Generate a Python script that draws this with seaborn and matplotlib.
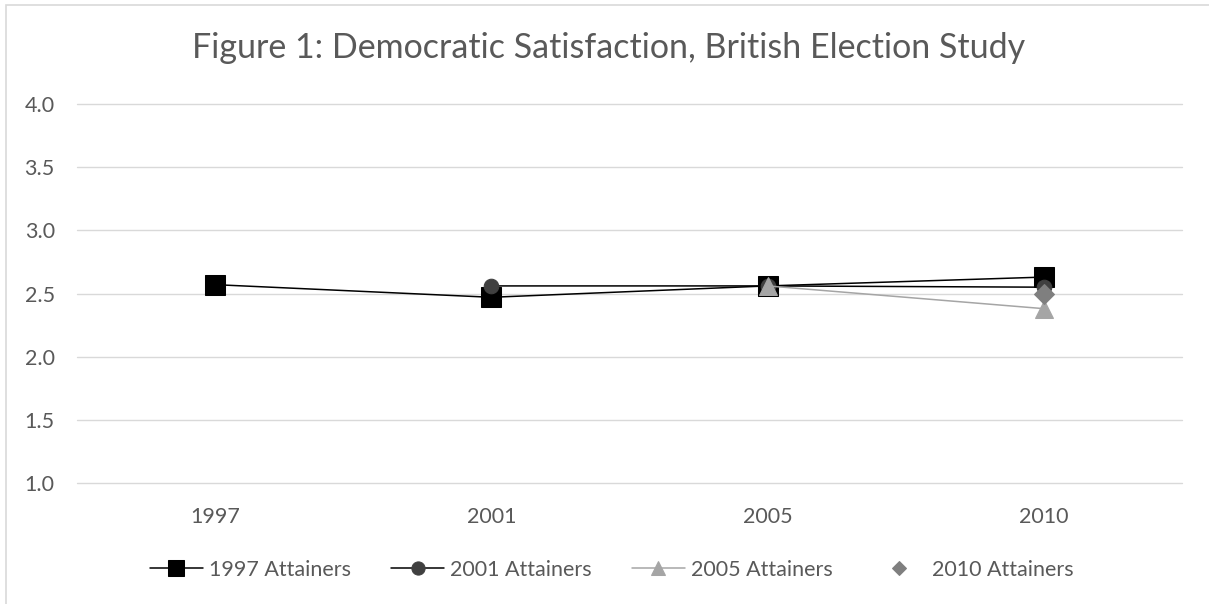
import numpy as np
import pandas as pd
import matplotlib
matplotlib.use("Agg")
import matplotlib.pyplot as plt
import seaborn as sns
from matplotlib.patches import Rectangle

years = ["1997", "2001", "2005", "2010"]
att_1997 = [2.57, 2.47, 2.56, 2.63]
att_2001 = [np.nan, 2.56, 2.56, 2.55]
att_2005 = [np.nan, np.nan, 2.56, 2.38]
att_2010 = [np.nan, np.nan, np.nan, 2.50]
series_names = ["1997 Attainers", "2001 Attainers", "2005 Attainers", "2010 Attainers"]
yticks = [1.0, 1.5, 2.0, 2.5, 3.0, 3.5, 4.0]
title = "Figure 1: Democratic Satisfaction, British Election Study"

sns.set_theme(style="white")
plt.rcParams['font.family'] = ['Lato', 'DejaVu Sans']
TXT = "#595959"

fig = plt.figure(figsize=(12.09, 6.04), dpi=100)
W, H = 1209, 604
left, right, top, bottom = 77, 1182, 104, 483
ax = fig.add_axes([left / W, 1 - bottom / H, (right - left) / W, (bottom - top) / H])

xpos = np.arange(len(years))
styles = [
    dict(color="black", marker="s", markersize=14.5, markerfacecolor="black",
         markeredgecolor="black", linewidth=1.1),
    dict(color="black", marker="o", markersize=10.5, markerfacecolor="#404040",
         markeredgecolor="#404040", linewidth=1.1),
    dict(color="#a5a5a5", marker="^", markersize=13, markerfacecolor="#a5a5a5",
         markeredgecolor="#a5a5a5", linewidth=1.1),
    dict(color="#7f7f7f", marker="D", markersize=10, markerfacecolor="#7f7f7f",
         markeredgecolor="#7f7f7f", linestyle="none"),
]
for name, vals, st in zip(series_names, [att_1997, att_2001, att_2005, att_2010], styles):
    df = pd.DataFrame({"x": xpos, "y": vals}).dropna()
    sns.lineplot(data=df, x="x", y="y", ax=ax, label=name, zorder=3, clip_on=False, **st)

ax.set_xlim(-0.5, len(years) - 0.5)
ax.set_ylim(1.0, 4.0)
ax.set_yticks(yticks)
ax.set_yticklabels([f"{v:.1f}" for v in yticks])
ax.set_xticks(xpos)
ax.set_xticklabels(years)
ax.set_xlabel("")
ax.set_ylabel("")
for s in ax.spines.values():
    s.set_visible(False)
ax.grid(False)
for v in yticks:
    ax.axhline(v, color="#d9d9d9", linewidth=1.0, zorder=1, clip_on=False)
ax.tick_params(axis="y", length=0, pad=16, labelsize=15.5, labelcolor=TXT)
ax.tick_params(axis="x", length=0, pad=17, labelsize=15.5, labelcolor=TXT)

fig.text(0.503, 1 - 58 / H, title, ha="center", va="baseline", fontsize=24.5, color=TXT)

handles, labels = ax.get_legend_handles_labels()
if ax.legend_:
    ax.legend_.remove()
leg = fig.legend(handles, labels, loc="center", bbox_to_anchor=(0.506, 1 - 570 / H),
                 ncol=4, frameon=False, fontsize=15.5,
                 handlelength=2.45, handletextpad=0.3, columnspacing=1.85)
for h, ms in zip(leg.legend_handles, [11, 9.5, 9.5, 7.5]):
    h.set_markersize(ms)
for t in leg.get_texts():
    t.set_color(TXT)

fig.patches.append(Rectangle((6 / W, -0.1), 1.2, 1 - 5 / H + 0.1, transform=fig.transFigure,
                             fill=False, edgecolor="#d9d9d9", linewidth=1.2, clip_on=False))

fig.savefig("out.png", dpi=100, facecolor="white")
